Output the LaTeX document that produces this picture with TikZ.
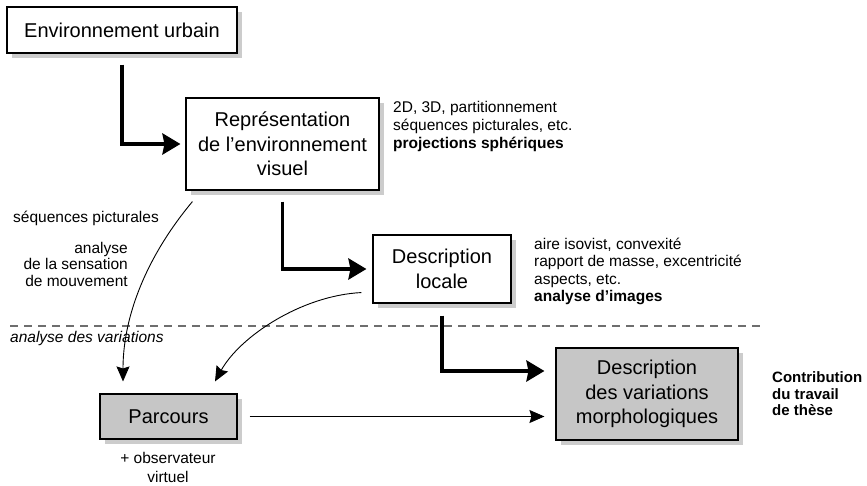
\documentclass[tikz,border=0pt]{standalone}
\usepackage{fontspec}
\setmainfont{Liberation Sans}
\usetikzlibrary{arrows.meta,shadows}
\definecolor{boxgray}{HTML}{C6C6C6}
\definecolor{shadowgray}{HTML}{CCCCCC}
\definecolor{dashgray}{HTML}{6E6E6E}
\tikzset{
  box/.style={draw=black, line width=1.1pt, fill=white, inner sep=0pt, align=center,
    font=\fontsize{20}{24.5}\selectfont,
    drop shadow={shadow xshift=5pt, shadow yshift=-5pt, fill=shadowgray, opacity=1}},
  graybox/.style={box, fill=boxgray},
  bigarrow/.style={line width=3.6pt, -{Stealth[length=18pt,width=21pt,inset=2pt]}},
  smallarrow/.style={line width=0.9pt, -{Stealth[length=15pt,width=13pt,inset=2pt]}},
  note/.style={inner sep=0pt, font=\fontsize{15.5}{17.5}\selectfont},
  boldnote/.style={inner sep=0pt, font=\fontsize{15}{16.5}\selectfont\bfseries},
  itnote/.style={inner sep=0pt, font=\fontsize{15.5}{17.5}\selectfont\itshape},
}
\begin{document}
\begin{tikzpicture}[x=1pt,y=-1pt]
\useasboundingbox (0,0) rectangle (867,486);

% dashed separator
\coordinate (dl) at (10,326);
\coordinate (dr) at (762,326);
\draw[dashgray, line width=1.3pt, dash pattern=on 8pt off 6pt] (dl) -- (dr);

% boxes
\node[box, minimum width=230pt, minimum height=46pt] (b1) at (122,30) {Environnement urbain};
\node[box, minimum width=193pt, minimum height=92pt] (b2) at (282.5,144) {Représentation\\de l’environnement\\visuel};
\node[box, minimum width=138pt, minimum height=68pt] (b3) at (442,269) {Description\\locale};
\node[graybox, minimum width=182pt, minimum height=92pt] (b4) at (647,394) {Description\\des variations\\morphologiques};
\node[graybox, minimum width=137pt, minimum height=45pt] (b5) at (168.5,416.5) {Parcours};

% thick connectors
\draw[bigarrow] ([yshift=-11pt]b1.south) |- ([xshift=-5pt]b2.west);
\draw[bigarrow] ([yshift=-11pt]b2.south) |- ([xshift=-6pt]b3.west);
\draw[bigarrow] ([yshift=-12pt]b3.south) |- ([xshift=-11pt,yshift=23pt]b4.west);

% thin connectors
\coordinate (p4) at (b5.east -| b4.west);
\draw[smallarrow] ([xshift=12pt]b5.east) -- ([xshift=-11pt]p4);
\draw[smallarrow] ([shift={(7pt,-11pt)}]b2.south west) .. controls +(-50,60) and +(0,-60) .. ([shift={(-45.5pt,12pt)}]b5.north);
\draw[smallarrow] ([shift={(-11pt,11pt)}]b3.south west) .. controls +(-60,3) and +(25,-45) .. ([shift={(46.5pt,12pt)}]b5.north);

% texts
\node[note, anchor=west, align=left, font=\fontsize{15.5}{18}\selectfont] (t1) at (393,126) {2D, 3D, partitionnement\\séquences picturales, etc.\\\textbf{projections sphériques}};
\node[note, anchor=west, align=left] (t2) at (534,271.5) {aire isovist, convexité\\rapport de masse, excentricité\\aspects, etc.\\\textbf{analyse d’images}};
\node[note, anchor=west] (t3) at (13,218) {séquences picturales};
\node[note, anchor=east, align=right, font=\fontsize{15.5}{16.5}\selectfont] (t4) at (128,264) {analyse\\de la sensation\\de mouvement};
\node[itnote, anchor=west] (t5) at (10,338) {analyse des variations};
\node[note, align=center, font=\fontsize{15.5}{19}\selectfont] (t6) at (168,467) {+ observateur\\virtuel};
\node[boldnote, anchor=west, align=left] (t7) at (772,394) {Contribution\\du travail\\de thèse};
\end{tikzpicture}
\end{document}
